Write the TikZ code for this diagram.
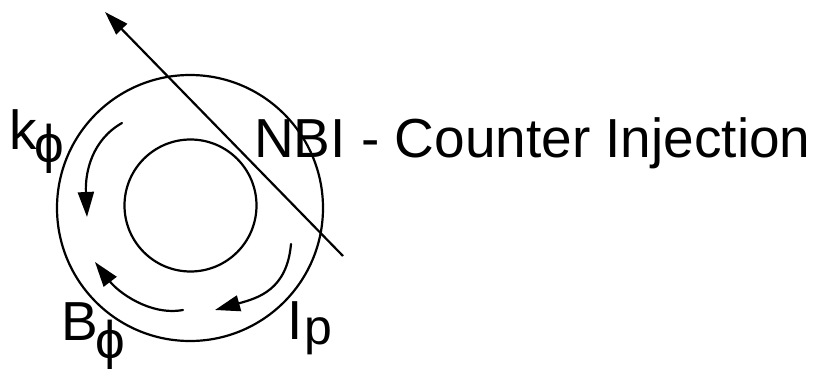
\documentclass[tikz,border=0pt]{standalone}
\usepackage{fontspec}
\setmainfont{Liberation Sans}
\usetikzlibrary{arrows.meta}
\begin{document}
\begin{tikzpicture}[x=1pt,y=-1pt,
  stroke/.style={line width=2.2pt, line cap=round},
  ring/.style={circle, draw, line width=2.2pt, inner sep=0pt},
  flow/.style={stroke, -{Triangle[length=25pt,width=16pt]}},
  big/.style={inner sep=0pt, anchor=base west, font=\fontsize{55}{60}\selectfont},
  subp/.style={inner sep=0pt, anchor=base west, font=\fontsize{53}{58}\selectfont},
  subl/.style={inner sep=0pt, anchor=base west, font=\fontsize{50}{54}\selectfont}]
\useasboundingbox (0,0) rectangle (822,369);
% rings
\node[ring, minimum size=266pt] (outer) at (190,208) {};
\node[ring, minimum size=132pt] (inner) at (190.5,205.5) {};
% beam line
\coordinate (nbiS) at (343,256);
\coordinate (nbiE) at (105,12);
\draw[stroke, line cap=butt, -{Triangle[length=24pt,width=15pt]}] (nbiS) -- (nbiE);
% flow arrows
\coordinate (kS) at (122,123);
\coordinate (kE) at (87,217);
\draw[flow] (kS) .. controls (92,140) and (85,172) .. (kE);
\coordinate (bS) at (183,310);
\coordinate (bE) at (95,262);
\draw[flow] (bS) .. controls (150,316) and (118,292) .. (bE);
\coordinate (iS) at (291,244);
\coordinate (iE) at (215,310);
\draw[flow] (iS) .. controls (287,290) and (258,298) .. (iE);
% labels
\node[big] (k) at (9,149) {k};
\node[subp] (kphi) at (34,162) {ϕ};
\node[big] (B) at (61,340) {B};
\node[subp] (Bphi) at (95,358) {ϕ};
\node[big] (I) at (287,339) {I};
\node[subl] (p) at (304,344) {p};
\node[big] (nbi) at (254,157) {NBI - Counter Injection};
\end{tikzpicture}
\end{document}
